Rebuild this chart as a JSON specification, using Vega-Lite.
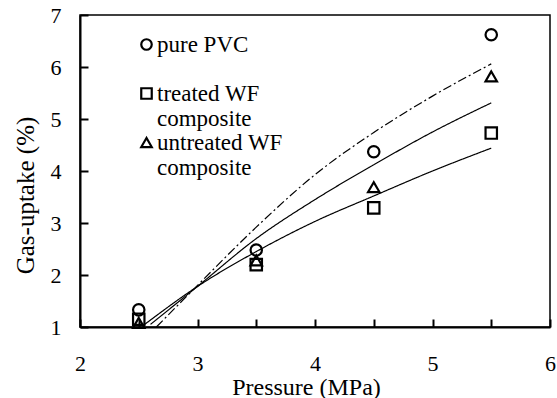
{
  "$schema": "https://vega.github.io/schema/vega-lite/v6.json",
  "width": 470,
  "height": 312,
  "autosize": {"type": "none"},
  "padding": {"left": 80, "top": 15, "right": 7, "bottom": 71},
  "background": "white",
  "config": {
    "font": "Liberation Serif",
    "view": {"stroke": "black", "strokeWidth": 1.5},
    "axis": {
      "domainColor": "black", "domainWidth": 2, "tickColor": "black", "tickWidth": 2,
      "labelColor": "black", "titleColor": "black", "grid": false,
      "labelFont": "Liberation Serif", "titleFont": "Liberation Serif",
      "labelFontSize": 22, "titleFontSize": 24, "titleFontWeight": "normal"
    },
    "legend": {"labelFont": "Liberation Serif", "labelFontSize": 23, "labelColor": "black"}
  },
  "datasets": {
    "points": [
      {"series": "pure PVC|", "P": 2.5, "uptake": 1.33},
      {"series": "pure PVC|", "P": 3.5, "uptake": 2.48},
      {"series": "pure PVC|", "P": 4.5, "uptake": 4.37},
      {"series": "pure PVC|", "P": 5.5, "uptake": 6.62},
      {"series": "treated WF|composite", "P": 2.5, "uptake": 1.15},
      {"series": "treated WF|composite", "P": 3.5, "uptake": 2.2},
      {"series": "treated WF|composite", "P": 4.5, "uptake": 3.29},
      {"series": "treated WF|composite", "P": 5.5, "uptake": 4.73},
      {"series": "untreated WF|composite", "P": 2.5, "uptake": 1.08},
      {"series": "untreated WF|composite", "P": 3.5, "uptake": 2.28},
      {"series": "untreated WF|composite", "P": 4.5, "uptake": 3.69},
      {"series": "untreated WF|composite", "P": 5.5, "uptake": 5.82}
    ],
    "fits": [
      {"curve": "pure PVC fit", "P": 2.65, "uptake": 1.0},
      {"curve": "pure PVC fit", "P": 3.0, "uptake": 1.8},
      {"curve": "pure PVC fit", "P": 3.5, "uptake": 2.92},
      {"curve": "pure PVC fit", "P": 4.0, "uptake": 3.93},
      {"curve": "pure PVC fit", "P": 4.5, "uptake": 4.74},
      {"curve": "pure PVC fit", "P": 5.0, "uptake": 5.44},
      {"curve": "pure PVC fit", "P": 5.5, "uptake": 6.06},
      {"curve": "untreated fit", "P": 2.6, "uptake": 1.05},
      {"curve": "untreated fit", "P": 3.0, "uptake": 1.78},
      {"curve": "untreated fit", "P": 3.5, "uptake": 2.7},
      {"curve": "untreated fit", "P": 4.0, "uptake": 3.45},
      {"curve": "untreated fit", "P": 4.5, "uptake": 4.12},
      {"curve": "untreated fit", "P": 5.0, "uptake": 4.75},
      {"curve": "untreated fit", "P": 5.5, "uptake": 5.31},
      {"curve": "treated fit", "P": 2.55, "uptake": 1.05},
      {"curve": "treated fit", "P": 3.0, "uptake": 1.78},
      {"curve": "treated fit", "P": 3.5, "uptake": 2.45},
      {"curve": "treated fit", "P": 4.0, "uptake": 3.03},
      {"curve": "treated fit", "P": 4.5, "uptake": 3.52},
      {"curve": "treated fit", "P": 5.0, "uptake": 4.0},
      {"curve": "treated fit", "P": 5.5, "uptake": 4.44}
    ]
  },
  "encoding": {
    "x": {
      "field": "P", "type": "quantitative",
      "scale": {"domain": [2, 6], "nice": false, "zero": false},
      "axis": {
        "title": "Pressure (MPa)",
        "values": [2, 2.5, 3, 3.5, 4, 4.5, 5, 5.5, 6],
        "labelExpr": "datum.value % 1 == 0 ? format(datum.value, 'd') : ''",
        "tickSize": -8, "labelPadding": 34,
        "titleX": 226, "titleY": 67, "titleBaseline": "alphabetic",
        "labelFlush": false, "labelOverlap": false
      }
    },
    "y": {
      "field": "uptake", "type": "quantitative",
      "scale": {"domain": [1, 7], "nice": false, "zero": false},
      "axis": {
        "title": "Gas-uptake (%)", "titleFontSize": 25,
        "values": [1, 2, 3, 4, 5, 6, 7],
        "tickSize": -8, "labelPadding": 27,
        "titleX": -42, "titleY": 180, "titleBaseline": "bottom",
        "labelFlush": false, "labelOverlap": false
      }
    }
  },
  "layer": [
    {
      "data": {"name": "fits"},
      "mark": {"type": "line", "color": "black", "strokeWidth": 1.2, "interpolate": "monotone"},
      "encoding": {
        "detail": {"field": "curve"},
        "strokeDash": {
          "field": "curve", "type": "nominal",
          "scale": {"domain": ["pure PVC fit", "treated fit", "untreated fit"], "range": [[9, 3, 2, 3], [1, 0], [1, 0]]},
          "legend": null
        }
      }
    },
    {
      "data": {"name": "points"},
      "mark": {"type": "point", "filled": false, "color": "black", "strokeWidth": 2.2, "size": 130, "opacity": 1},
      "encoding": {
        "shape": {
          "field": "series", "type": "nominal",
          "scale": {"domain": ["pure PVC|", "treated WF|composite", "untreated WF|composite"], "range": ["circle", "square", "triangle-up"]},
          "legend": {
            "title": null, "orient": "none", "legendX": 55, "legendY": 18,
            "labelExpr": "split(datum.label, '|')",
            "labelLineHeight": 25, "labelBaseline": "middle", "labelOffset": -1,
            "symbolSize": 110, "symbolStrokeWidth": 2.2, "symbolStrokeColor": "black",
            "symbolFillColor": "transparent", "rowPadding": -5, "padding": 0
          }
        }
      }
    }
  ]
}
